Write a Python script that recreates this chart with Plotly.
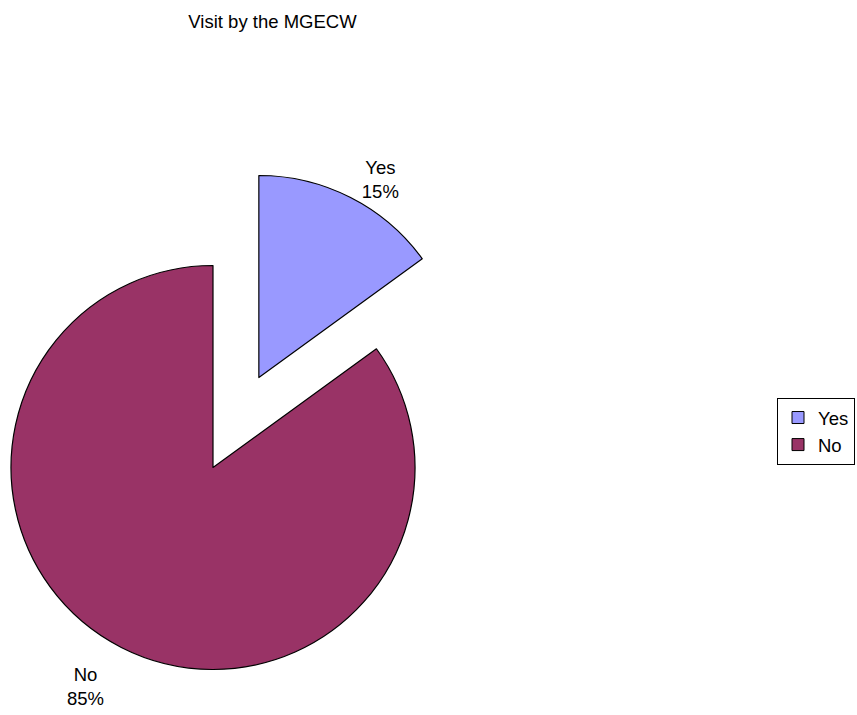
import math
import plotly.graph_objects as go

# ---- data ----
labels = ["Yes", "No"]
values = [15, 85]
colors = ["#9999FF", "#993366"]
title_text = "Visit by the MGECW"

# ---- layout geometry (pixels) ----
W, H = 857, 715
cx, cy = 213.0, 467.5      # centre of the main pie (from top-left)
r = 202.0                  # radius in px
pull = 0.5                 # exploded "Yes" slice pull (fraction of radius)

total = sum(values)
mid = 2 * math.pi * (values[0] / 2) / total   # mid-angle of first slice (clockwise from 12 o'clock)
bx = cx + pull * r * math.sin(mid)
by = cy - pull * r * math.cos(mid)


def dom(x0, y0, rad):
    return dict(x=[(x0 - rad) / W, (x0 + rad) / W],
                y=[1 - (y0 + rad) / H, 1 - (y0 - rad) / H])


CLEAR = "rgba(0,0,0,0)"
FONT = "Liberation Sans, Arial, sans-serif"
FS = 18.5
tmpl_top = "%{label}<br>%{percent}"
tmpl_bottom = "&nbsp;<br>%{label}<br>%{percent}"

common = dict(labels=labels, values=values, sort=False, direction="clockwise",
              rotation=0, textposition="outside", hoverinfo="skip",
              outsidetextfont=dict(color="black", size=FS, family=FONT))

fig = go.Figure()
# main pie: "No" slice visible
fig.add_trace(go.Pie(
    **common, domain=dom(cx, cy, r), showlegend=False,
    marker=dict(colors=[CLEAR, colors[1]],
                line=dict(color=[CLEAR, "black"], width=1.2)),
    texttemplate=["", tmpl_bottom],
))
# exploded "Yes" slice
fig.add_trace(go.Pie(
    **common, domain=dom(bx, by, r), showlegend=False,
    marker=dict(colors=[colors[0], CLEAR],
                line=dict(color=["black", CLEAR], width=1.2)),
    texttemplate=[tmpl_top, ""],
))
# legend source (tiny, hidden beneath the legend box)
fig.add_trace(go.Pie(
    labels=labels, values=values, sort=False, direction="clockwise",
    domain=dom(826, 425, 2), showlegend=True, textinfo="none", hoverinfo="skip",
    marker=dict(colors=colors, line=dict(color="black", width=1)),
))

fig.update_layout(
    width=W, height=H,
    margin=dict(l=0, r=0, t=0, b=0),
    paper_bgcolor="white", plot_bgcolor="white",
    font=dict(family=FONT, size=FS, color="black"),
    title=dict(text=title_text, x=272.5 / W, y=1 - 22 / H, xref="paper", yref="container",
               xanchor="center", yanchor="middle",
               font=dict(family=FONT, size=FS, color="black")),
    legend=dict(x=855 / W, y=1 - 398 / H, xanchor="right", yanchor="top",
                bgcolor="white", bordercolor="black", borderwidth=1,
                font=dict(family=FONT, size=FS, color="black"),
                itemwidth=30, tracegroupgap=0),
)

fig.write_html("out.html", config={"displayModeBar": False},
               post_script="document.body.style.margin='0';document.body.style.overflow='hidden';")
